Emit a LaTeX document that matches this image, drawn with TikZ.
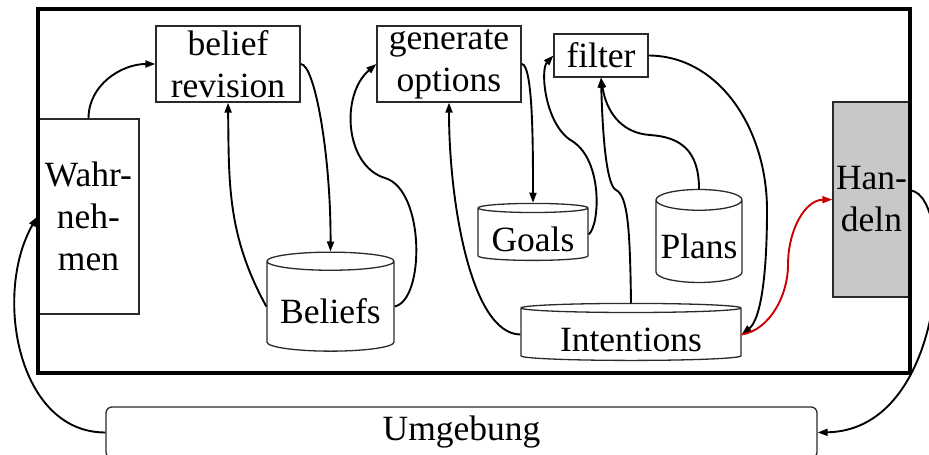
\documentclass[tikz,border=0pt]{standalone}
\usepackage{fontspec}
\setmainfont{Liberation Serif}
\usetikzlibrary{shapes.geometric,arrows.meta}
\definecolor{edgegray}{HTML}{2A2A2A}
\definecolor{actfill}{HTML}{C8C8C8}
\definecolor{actred}{HTML}{CC0000}
% store labels sit a little below the middle of the cylinder
\newcommand{\storelabel}[1]{\raisebox{-5pt}[\height][\depth]{#1}}
\begin{document}
\begin{tikzpicture}[x=1pt,y=-1pt,
  every node/.style={font=\fontsize{35.5}{42}\selectfont, text=black},
  proc/.style={draw=edgegray, line width=1.3pt, fill=white, inner sep=0pt, align=center},
  store/.style={cylinder, shape border rotate=90, draw=edgegray, line width=1.3pt,
    fill=white, inner sep=0pt},
  link/.style={line width=1.9pt, -{Triangle[length=10pt,width=7pt]}},
]
\useasboundingbox (0,0) rectangle (929,455);
\clip (0,0) rectangle (929,455);

% processes
\node[proc, minimum width=101pt, minimum height=195pt] (W) at (88.5,216.5) {Wahr-\\neh-\\men};
\node[proc, minimum width=144pt, minimum height=76pt] (BR) at (228,64) {belief\\revision};
\node[proc, minimum width=144pt, minimum height=76pt] (GO) at (449,64) {generate\\options};
\node[proc, minimum width=94pt, minimum height=43pt] (F) at (601,55.5) {filter};
\node[proc, fill=actfill, minimum width=77pt, minimum height=195pt] (H) at (871.5,199.5) {Han-\\deln};

% stores
\node[store, minimum width=127pt, minimum height=99pt, aspect=0.18] (B) at (330.5,306.5) {\storelabel{Beliefs}};
\node[store, minimum width=110pt, minimum height=57pt, aspect=0.11] (G) at (533,234.5) {\storelabel{Goals}};
\node[store, minimum width=86pt, minimum height=93pt, aspect=0.27] (P) at (699,241.5) {\storelabel{Plans}};
\node[store, minimum width=220pt, minimum height=57pt, aspect=0.064] (I) at (631,334.5) {\storelabel{Intentions}};

% environment
\node[draw=edgegray, line width=1.3pt, rounded corners=6pt, minimum width=711pt,
  minimum height=51pt, inner sep=0pt] (U) at (461.5,432.5) {Umgebung};

% agent frame
\draw[line width=3.5pt] (38,9) rectangle (910,373);

% waypoints
\coordinate (k1) at (385,178);
\coordinate (k2) at (572,141);
\coordinate (k3) at (616,190);
\coordinate (k4) at (650,135);
\coordinate (k5) at (767,210);
\coordinate (k6) at (788,265);

% connectors
\draw[link] (W.north) to[out=90,in=180] (BR.west);
\draw[link] (B.180) .. controls (227,235) and (229,183) .. (BR.south);
\draw[link] (BR.east) .. controls (315,64) and (331,157) .. (B.90);
\draw[link] (B.0) .. controls (425,300) and (425,190) .. (k1)
  .. controls (345,166) and (340,95) .. (GO.west);
\draw[link] (GO.east) .. controls (533,64) and (533,146) .. (G.90);
\draw[link] (I.180) .. controls (471,334) and (449,202) .. (GO.south);
\draw[link] (G.0) .. controls (600,225) and (603,160) .. (k2)
  .. controls (545,125) and (540,70) .. (F.west);
\draw[link] (I.90) .. controls (630,230) and (628,196) .. (k3)
  .. controls (608,186) and (603,150) .. (F.south);
\draw[link] (P.90) .. controls (699,150) and (680,137) .. (k4)
  .. controls (620,133) and (606,110) .. (F.south);
\draw[link] (F.east) .. controls (720,56) and (767,130) .. (k5)
  .. controls (767,280) and (760,320) .. (I.east);
\draw[link, actred] (I.east) .. controls (770,330) and (788,295) .. (k6)
  .. controls (788,230) and (805,200) .. (H.west);
\draw[link] ([yshift=9pt]H.east) .. controls (955,195) and (950,430) .. (U.east);
\draw[link] (U.west) to[out=180,in=240] (W.west);
\end{tikzpicture}
\end{document}
